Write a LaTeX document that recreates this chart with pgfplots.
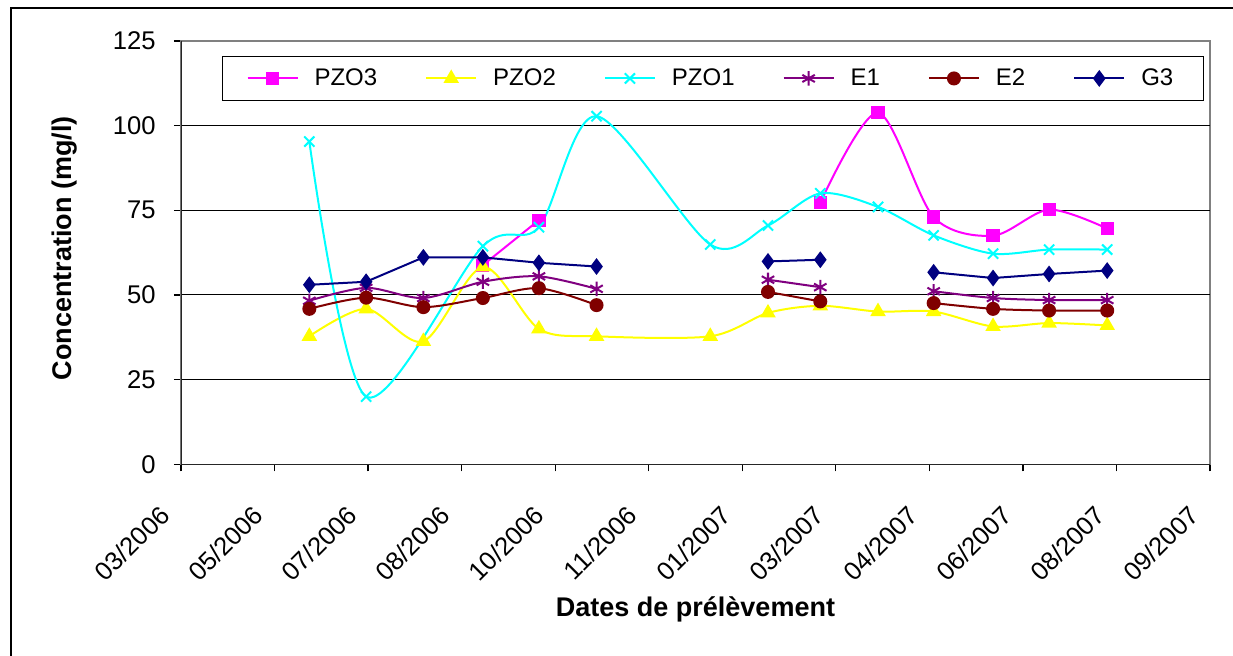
\documentclass[border=0pt]{standalone}
\usepackage{pgfplots}
\pgfplotsset{compat=1.18}
\usepackage{fontspec}
\setmainfont{Liberation Sans}

\definecolor{cPZOc}{RGB}{255,0,255}
\definecolor{cPZOb}{RGB}{255,255,0}
\definecolor{cPZOa}{RGB}{0,255,255}
\definecolor{cEa}{RGB}{128,0,128}
\definecolor{cEb}{RGB}{128,0,0}
\definecolor{cG}{RGB}{0,0,128}

\begin{document}
\begin{tikzpicture}
\useasboundingbox (0,0) rectangle (616.5pt,328pt);
\fill[white] (0,0) rectangle (616.5pt,328pt);
% outer chart frame
\draw[line width=1pt] (5.5pt,-20pt) -- (5.5pt,324pt) -- (640pt,324pt);
\begin{axis}[
  at={(90.5pt,95.85pt)}, anchor=south west,
  scale only axis, width=514.5pt, height=211.65pt,
  xmin=0, xmax=11, ymin=0, ymax=125,
  xtick={0,...,11},
  xticklabels={03/2006,05/2006,07/2006,08/2006,10/2006,11/2006,01/2007,03/2007,04/2007,06/2007,08/2007,09/2007},
  ytick={0,25,...,125},
  extra y ticks={25,50,75,100},
  extra y tick labels={},
  extra y tick style={grid=major, major tick length=0pt},
  grid style={black, line width=0.5pt},
  axis line style={draw=gray, line width=0.6pt},
  tick pos=left, tick align=outside, major tick length=3.5pt,
  tick style={black, line width=0.6pt},
  unbounded coords=jump,
  /pgf/number format/assume math mode=true,
  ticklabel style={font=\fontsize{12.8}{14}\selectfont},
  yticklabel style={anchor=east, inner sep=0pt, xshift=-9pt},
  xticklabel style={xshift=-8pt, yshift=-19.5pt, rotate=45, anchor=east, inner sep=0pt},
  xlabel={Dates de prélèvement},
  ylabel={Concentration (mg/l)},
  label style={font=\bfseries\fontsize{13.5}{15}\selectfont},
  xlabel style={at={(axis description cs:0.5,0)}, anchor=center, yshift=-72.35pt},
  ylabel style={at={(axis description cs:0,0.5)}, anchor=center, rotate=0, yshift=58pt, xshift=2.3pt},
  legend columns=6,
  legend style={at={(0.0398,0.9646)}, anchor=north west, draw=black, line width=0.6pt,
    fill=white, font=\fontsize{12}{14}\selectfont,
    inner xsep=12pt, inner ysep=3pt,
    nodes={inner xsep=3pt, inner ysep=3pt},
    /tikz/every odd column/.append style={column sep=5pt},
    /tikz/every even column/.append style={column sep=21pt}},
  legend image code/.code={\draw[mark repeat=2,mark phase=2,#1] plot coordinates {(0pt,0pt) (12.5pt,0pt) (25pt,0pt)};},
]
% PZO3
\addplot[cPZOc, line width=1pt, smooth, mark=square*, mark size=2.8pt, mark options={solid}] coordinates {
  (3.227,58.8) (3.826,72.1) (4.442,nan)
  (6.834,77.2) (7.451,103.8) (8.046,73.0) (8.681,67.5) (9.280,75.2) (9.901,69.6)
};
% PZO2
\addplot[cPZOb, line width=1pt, smooth, mark=triangle*, mark size=3.5pt, mark options={solid}] coordinates {
  (1.372,37.8) (1.979,45.9) (2.591,36.3) (3.227,58.3) (3.826,40.0) (4.442,37.8)
  (5.658,37.8) (6.275,44.7) (6.834,46.8) (7.451,45.1) (8.046,45.1) (8.681,40.7)
  (9.280,41.7) (9.901,41.0)
};
% PZO1
\addplot[cPZOa, line width=1pt, smooth, mark=x, mark size=3.6pt, mark options={solid}] coordinates {
  (1.372,95.3) (1.979,20.0) (3.227,64.4) (3.826,70.0) (4.442,102.8) (5.658,64.9)
  (6.275,70.5) (6.834,80.0) (7.451,76.0) (8.046,67.6) (8.681,62.2) (9.280,63.4)
  (9.901,63.4)
};
% E1
\addplot[cEa, line width=1pt, smooth, mark=asterisk, mark size=3.6pt, mark options={solid}] coordinates {
  (1.372,48.3) (1.979,52.1) (2.591,49.1) (3.227,53.9) (3.826,55.5) (4.442,51.8)
  (5.658,nan) (6.275,54.5) (6.834,52.3) (7.451,nan)
  (8.046,51.1) (8.681,49.1) (9.280,48.5) (9.901,48.5)
};
% E2
\addplot[cEb, line width=1pt, smooth, mark=*, mark size=3pt, mark options={solid}] coordinates {
  (1.372,45.9) (1.979,49.2) (2.591,46.4) (3.227,49.1) (3.826,52.0) (4.442,47.0)
  (5.658,nan) (6.275,50.9) (6.834,48.1) (7.451,nan)
  (8.046,47.6) (8.681,45.9) (9.280,45.4) (9.901,45.4)
};
% G3
\addplot[cG, line width=1pt, mark=diamond*, mark size=3.4pt, mark options={solid}] coordinates {
  (1.372,53.0) (1.979,53.9) (2.591,61.1) (3.227,61.1) (3.826,59.5) (4.442,58.4)
  (5.658,nan) (6.275,59.9) (6.834,60.4) (7.451,nan)
  (8.046,56.7) (8.681,55.0) (9.280,56.2) (9.901,57.2)
};
\legend{PZO3,PZO2,PZO1,E1,E2,G3}
% left and bottom axis lines in black
\draw[black!85, line width=0.7pt] (rel axis cs:0,1) -- (rel axis cs:0,0) -- (rel axis cs:1,0);
\end{axis}
\end{tikzpicture}
\end{document}
